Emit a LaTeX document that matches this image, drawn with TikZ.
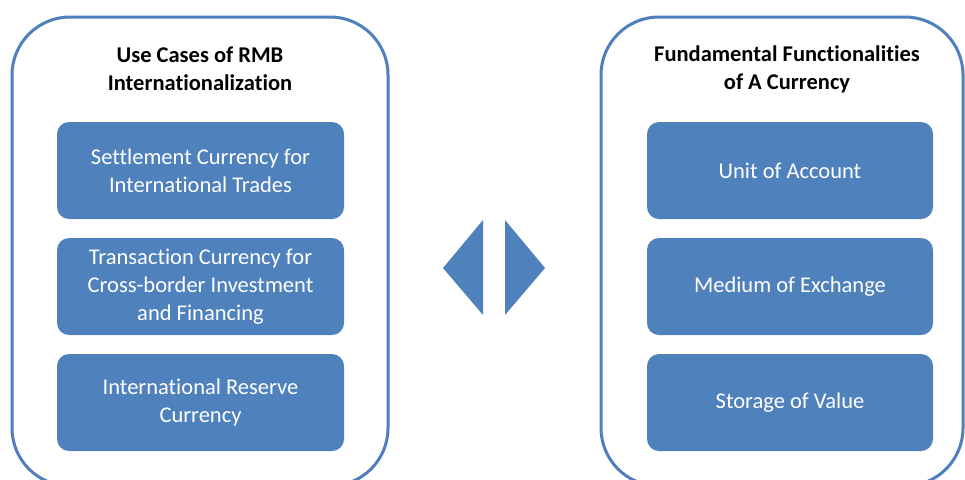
\documentclass[tikz,border=0pt]{standalone}
\usepackage{fontspec}
\setmainfont[Ligatures=NoCommon]{Carlito}
\definecolor{boxblue}{HTML}{4F81BD}
\definecolor{lineblue}{HTML}{4F7FBC}
\begin{document}
\begin{tikzpicture}[x=1pt,y=-1pt,
  container/.style={draw=lineblue, line width=3pt, rounded corners=58pt, fill=white, inner sep=0pt},
  itembox/.style={fill=boxblue, rounded corners=12pt, minimum height=97pt, text=white, align=center,
     font=\fontsize{22.5}{28}\selectfont, inner sep=0pt},
  titletext/.style={align=center, font=\fontsize{22.5}{28}\selectfont\bfseries, text=black},
  arrowtri/.style={fill=boxblue, draw=none}]
\useasboundingbox (0,0) rectangle (965,479);
\clip (0,0) rectangle (965,479);
\fill[white] (0,0) rectangle (965,479);
% containers
\node[container, minimum width=376pt, minimum height=469pt] (lc) at (200,251.5) {};
\node[container, minimum width=362pt, minimum height=469pt] (rc) at (782,251.5) {};
% titles
\node[titletext] (lt) at (200,69) {Use Cases of RMB\\Internationalization};
\node[titletext] (rt) at (787,69) {Fundamental Functionalities\\of A Currency};
% left boxes
\node[itembox, minimum width=287pt] (l1) at (200.5,170.5) {Settlement Currency for\\International Trades};
\node[itembox, minimum width=287pt] (l2) at (200.5,286.5) {Transaction Currency for\\Cross-border Investment\\and Financing};
\node[itembox, minimum width=287pt] (l3) at (200.5,402.5) {International Reserve\\Currency};
% right boxes
\node[itembox, minimum width=286pt] (r1) at (790,170.5) {Unit of Account};
\node[itembox, minimum width=286pt] (r2) at (790,286.5) {Medium of Exchange};
\node[itembox, minimum width=286pt] (r3) at (790,402.5) {Storage of Value};
% triangles
\coordinate (ta) at (443,268);
\coordinate (tb) at (483,220);
\coordinate (tc) at (483,315);
\coordinate (td) at (505,220);
\coordinate (te) at (505,315);
\coordinate (tf) at (545,268);
\fill[arrowtri] (ta) -- (tb) -- (tc) -- cycle;
\fill[arrowtri] (td) -- (tf) -- (te) -- cycle;
\end{tikzpicture}
\end{document}
